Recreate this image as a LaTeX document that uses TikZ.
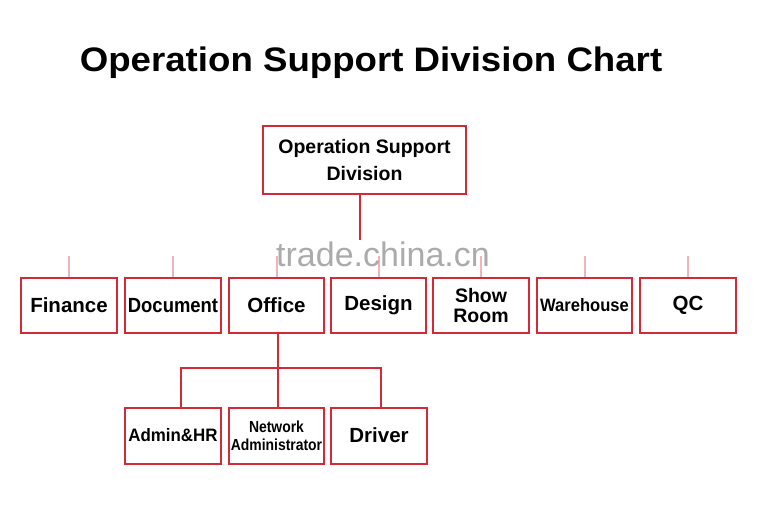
\documentclass[tikz,border=0pt]{standalone}
\usepackage{fontspec}
\setmainfont{Liberation Sans}
\usepackage{graphicx}
\definecolor{boxred}{RGB}{212,42,56}
\definecolor{stubred}{RGB}{240,180,186}
\definecolor{wmgray}{RGB}{150,150,150}
\begin{document}
\begin{tikzpicture}[x=1pt,y=-1pt,
  box/.style={draw=boxred, line width=2pt, fill=white, inner sep=0pt, minimum width=96pt, minimum height=55pt, align=center, font=\bfseries\fontsize{20.5}{22}\selectfont},
  link/.style={draw=boxred, line width=2pt},
  stub/.style={draw=stubred, line width=2pt}]
\useasboundingbox[fill=white] (0,0) rectangle (767,529);
\node[anchor=base, font=\bfseries\fontsize{34}{36}\selectfont] (title) at (371,72) {\scalebox{1.078}[1]{Operation Support Division Chart}};
\node[box, minimum width=203pt, minimum height=68pt, font=\bfseries\fontsize{19.5}{27}\selectfont] (top) at (364.5,160) {Operation Support\\Division};
\node[box] (fin) at (69,305.5) {Finance};
\node[box] (doc) at (173,305.5) {\scalebox{0.9}[1]{Document}};
\node[box, minimum width=95pt] (off) at (276.5,305.5) {Office};
\node[box, minimum width=95pt] (des) at (378.5,305.5) {Design};
\node[box, font=\bfseries\fontsize{19.5}{19.5}\selectfont] (show) at (481,305.5) {Show\\Room};
\node[box, minimum width=95pt, font=\bfseries\fontsize{18}{20}\selectfont] (ware) at (584.5,305.5) {\scalebox{0.92}[1]{Warehouse}};
\node[box] (qc) at (688,305.5) {QC};
\node[box, minimum height=56pt, font=\bfseries\fontsize{18}{20}\selectfont] (adm) at (173,435.5) {\scalebox{0.94}[1]{Admin\&HR}};
\node[box, minimum width=95pt, minimum height=56pt, font=\bfseries\fontsize{16}{18}\selectfont] (net) at (276.5,435.5) {\scalebox{0.87}[1]{Network}\\\scalebox{0.87}[1]{Administrator}};
\node[box, minimum height=56pt] (drv) at (379,435.5) {Driver};
% stem from top box
\coordinate (stem) at (360,240);
\draw[link] (top.south -| stem) -- (stem);
% faded stubs above the department boxes
\coordinate (sy) at (0,256);
\foreach \n in {fin,doc,off,des,show,ware,qc}{
  \draw[stub] (\n.north |- sy) -- (\n.north);
}
% office sub-tree
\coordinate (bar) at (0,368);
\draw[link] ([xshift=1.5pt]off.south) -- ([xshift=1.5pt]net.north);
\draw[link] ([xshift=8pt]adm.north) -- ([xshift=8pt]adm.north |- bar) -- ([xshift=2pt]drv.north |- bar) -- ([xshift=2pt]drv.north);
% watermark
\node[text=wmgray, opacity=0.8, font=\fontsize{34}{36}\selectfont, anchor=base] (wm) at (383,266) {trade.china.cn};
\end{tikzpicture}
\end{document}
